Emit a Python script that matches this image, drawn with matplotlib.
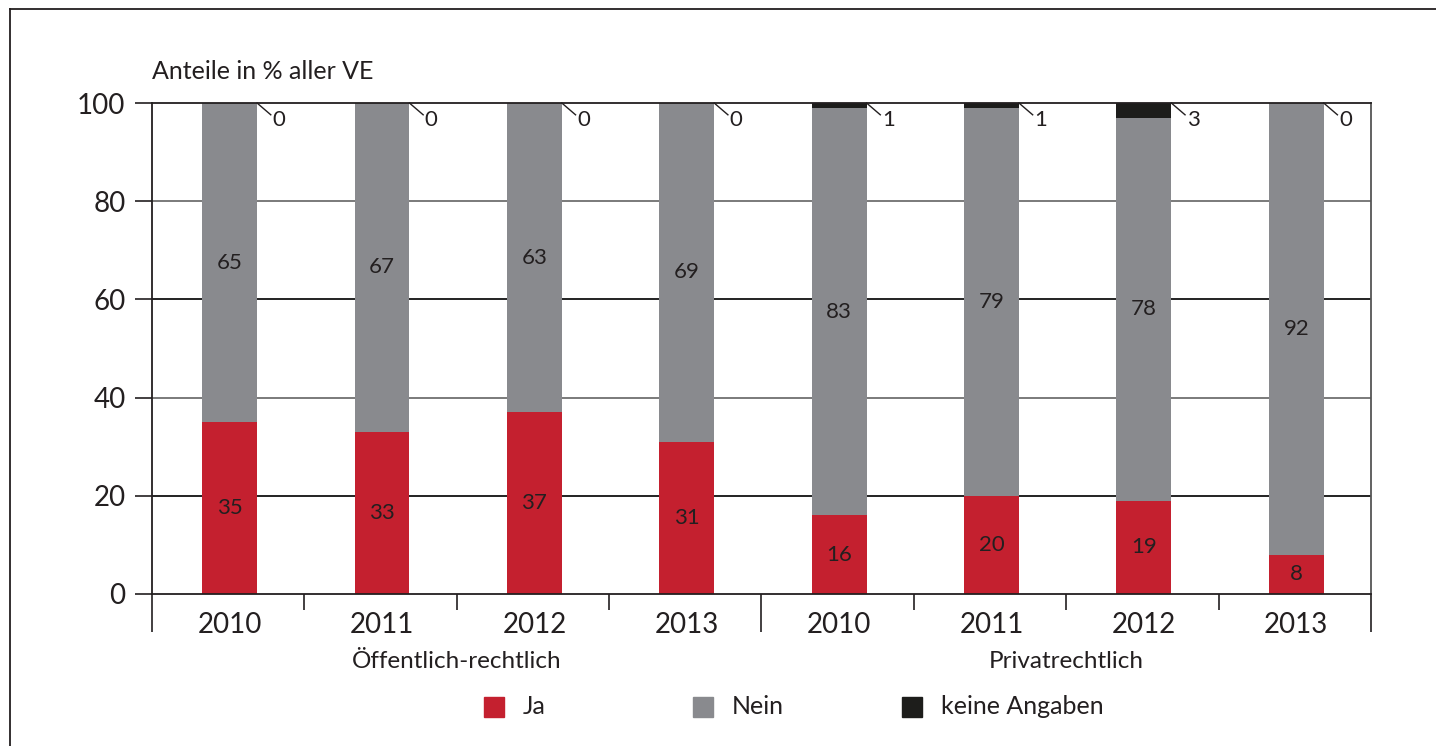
import numpy as np
import matplotlib.pyplot as plt
from matplotlib.patches import Rectangle
from matplotlib.transforms import blended_transform_factory

plt.rcParams['font.family'] = ['Lato', 'DejaVu Sans']

# Anteile in % aller VE, je Rechtsform und Jahr
years = ['2010', '2011', '2012', '2013', '2010', '2011', '2012', '2013']
groups = ['Öffentlich-rechtlich', 'Privatrechtlich']
ja = [35, 33, 37, 31, 16, 20, 19, 8]
nein = [65, 67, 63, 69, 83, 79, 78, 92]
keine_angaben = [0, 0, 0, 0, 1, 1, 3, 0]

RED = '#c4202f'
GREY = '#898a8e'
BLACK = '#1d1d1b'
TEXT = '#231f20'

fig = plt.figure(figsize=(14.36, 7.46), dpi=100)
ax = fig.add_axes([0.1058, 0.2038, 0.8489, 0.6581])

x = np.arange(len(years)) + 0.5
w = 0.36
ja = np.array(ja)
nein = np.array(nein)
keine_angaben = np.array(keine_angaben)

# gridlines first so the bars sit on top
for yv, col in [(20, '#222222'), (40, '#7a7a7a'), (60, '#222222'), (80, '#7a7a7a')]:
    ax.axhline(yv, color=col, lw=1.4, zorder=0)

ax.bar(x + 0.01, ja, w, color=RED, zorder=2)
ax.bar(x + 0.01, nein, w, bottom=ja, color=GREY, zorder=2)
ax.bar(x + 0.01, keine_angaben, w, bottom=ja + nein, color=BLACK, zorder=2)

# segment labels
for xi, j, n in zip(x + 0.01, ja, nein):
    ax.text(xi, j / 2, str(j), ha='center', va='center', fontsize=16, color=TEXT, zorder=3)
    ax.text(xi, j + n / 2, str(n), ha='center', va='center', fontsize=16, color=TEXT, zorder=3)

# "keine Angaben" values sit outside with a short leader line
for xi, k in zip(x + 0.01, keine_angaben):
    x0 = xi + w / 2
    ax.plot([x0, x0 + 0.09], [100, 97.6], color=TEXT, lw=1.0, zorder=3, clip_on=False)
    ax.text(x0 + 0.1, 96.6, str(k), ha='left', va='center', fontsize=16, color=TEXT, zorder=3)

ax.set_xlim(0, len(years))
ax.set_ylim(0, 100)
ax.set_yticks(np.arange(0, 101, 20))
ax.tick_params(axis='y', length=12, width=1.2, color=TEXT, labelsize=20, labelcolor=TEXT, pad=7)

# separators between years (short) and between groups (long)
ax.set_xticks([0, 4, 8])
ax.set_xticks([1, 2, 3, 5, 6, 7], minor=True)
ax.tick_params(axis='x', which='major', length=27, width=1.2, color=TEXT, labelbottom=False)
ax.tick_params(axis='x', which='minor', length=11.5, width=1.2, color=TEXT, labelbottom=False)

for side in ['left', 'right', 'top', 'bottom']:
    ax.spines[side].set_color(TEXT)
    ax.spines[side].set_linewidth(1.3)
ax.spines['right'].set_color('#555555')

trans = blended_transform_factory(ax.transData, ax.transAxes)
for xi, yr in zip(x + 0.01, years):
    ax.text(xi, -0.064, yr, transform=trans, ha='center', va='center', fontsize=20, color=TEXT)
for gi, g in enumerate(groups):
    ax.text(gi * 4 + 2, -0.137, g, transform=trans, ha='center', va='center', fontsize=17.5, color=TEXT)

ax.text(0, 1.065, 'Anteile in % aller VE', transform=ax.transAxes, ha='left', va='center',
        fontsize=18, color=TEXT)

# legend with evenly spaced entries
legend_items = [('Ja', RED), ('Nein', GREY), ('keine Angaben', BLACK)]
for i, (lab, col) in enumerate(legend_items):
    lx = 484 + i * 209
    fig.add_artist(Rectangle((lx / 1436, 1 - 717 / 746), 20 / 1436, 20 / 746,
                             transform=fig.transFigure, color=col))
    fig.text((lx + 39) / 1436, 1 - 707 / 746, lab, ha='left', va='center', fontsize=18, color=TEXT)

# outer frame (only left and top edges fall inside the image)
fig.add_artist(plt.Line2D([10 / 1436, 10 / 1436], [0, 1 - 9 / 746], transform=fig.transFigure,
                          color=TEXT, lw=1.3))
fig.add_artist(plt.Line2D([10 / 1436, 1], [1 - 9 / 746, 1 - 9 / 746], transform=fig.transFigure,
                          color=TEXT, lw=1.3))

fig.savefig('out.png', dpi=100)
